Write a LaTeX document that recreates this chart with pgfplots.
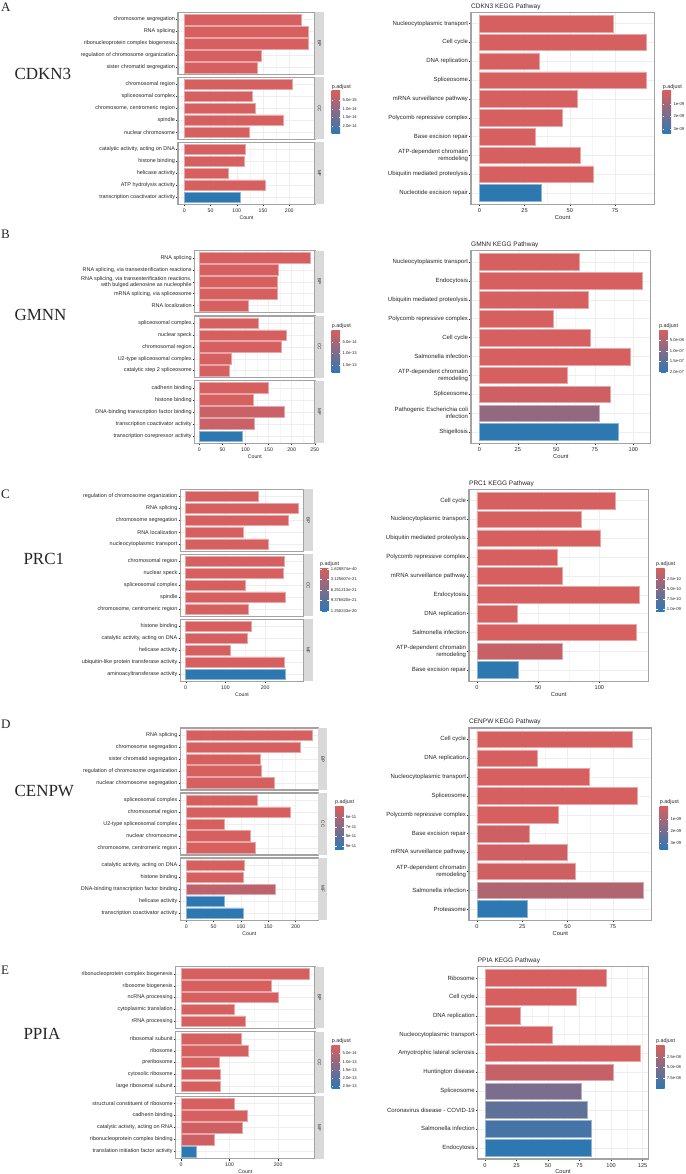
\documentclass[border=0pt]{standalone}
\usepackage{fontspec}
\setmainfont{Liberation Sans}
\newfontfamily\namefont{Liberation Serif}
\usepackage{pgfplots}
\pgfplotsset{compat=1.18}

\definecolor{pred}{HTML}{D65F5F}
\definecolor{pblue}{HTML}{2E78B2}
\definecolor{framegrey}{HTML}{A3A3A3}
\definecolor{stripgrey}{HTML}{D9D9D9}
\definecolor{gridgrey}{HTML}{EEEEEE}
\definecolor{txt}{HTML}{262626}

% 1 px of the reference = 1 pt here
\pgfplotsset{
  box/.style n args={4}{at={(#1pt,-#2pt)},anchor=north west,width=#3pt,height=#4pt},
  base/.style={
    scale only axis,y dir=reverse,
    axis line style={framegrey,line width=1.2pt},
    grid=major,grid style={gridgrey,line width=0.4pt},
    minor x tick num=1,xminorgrids=true,
    minor grid style={gridgrey!60,line width=0.3pt},
    minor tick length=0pt,
    tick align=outside,major tick length=1.8pt,
    tick style={txt,line width=0.3pt},
    xtick pos=bottom,ytick pos=left,
    bar shift=0pt,bar width=0.88,
    scaled x ticks=false,
    /pgf/number format/assume math mode=true,
    yticklabel style={align=right,text=txt,inner sep=1pt},
    xticklabel style={text=txt,inner sep=1pt,yshift=-1.5pt},
    xlabel style={text=txt,inner sep=0pt},
  },
  go/.style={base,ymin=0.4,ymax=5.6,ytick={1,...,5},
    yticklabel style={font=\fontsize{5.45}{6}\selectfont},
    xticklabel style={font=\fontsize{5.2}{6}\selectfont},
    xlabel style={font=\fontsize{5.2}{6}\selectfont,yshift=-1.8pt},
  },
  noxticks/.style={xticklabels={},xtick style={draw=none}},
  strip/.style={clip=false,after end axis/.code={
    \fill[stripgrey] (rel axis cs:1,0) rectangle ([xshift=9pt]rel axis cs:1,1);
    \node[rotate=-90,font=\fontsize{4.5}{5}\selectfont,text=txt] at ([xshift=4.5pt]rel axis cs:1,0.5) {#1};
  }},
  kegg/.style={base,ymin=0.4,ymax=10.6,ytick={1,...,10},
    yticklabel style={font=\fontsize{6}{6.8}\selectfont},
    xticklabel style={font=\fontsize{5.6}{6}\selectfont},
    xlabel style={font=\fontsize{5.8}{6}\selectfont,yshift=-1.2pt},
    title style={font=\fontsize{6.5}{7}\selectfont,text=txt,anchor=south west,at={(0,1)},inner sep=0pt,yshift=-3.5pt},
  },
}
\newcommand\bars[2]{\addplot[xbar,fill=#1,draw=#1!55!white,line width=0.5pt] coordinates {#2};}
\newcommand\gene[3]{\node[anchor=west,font=\namefont\fontsize{17}{18}\selectfont,text=txt] at (#1pt,-#2pt) {#3};}
\newcommand\letter[3]{\node[anchor=west,inner sep=0pt,font=\namefont\fontsize{13}{14}\selectfont,text=txt] at (#1pt,-#2pt) {#3};}
% colour key: x of bar, top, bottom, title, label list
\newcommand\pkey[5]{%
  \shade[top color=pred,middle color=pred!75!pblue,bottom color=pblue] (#1pt,-#2pt) rectangle ++(8.5pt,-#3pt);
  \node[anchor=south west,inner sep=0pt,font=\fontsize{5.4}{6}\selectfont,text=txt] at (#1pt,-#2pt+1.5pt) {#4};
  \foreach \yy/\tt in {#5}{
    \draw[white,line width=0.3pt] (#1pt,-\yy pt) -- ++(1.7pt,0);
    \draw[white,line width=0.3pt] (#1pt+6.8pt,-\yy pt) -- ++(1.7pt,0);
    \node[anchor=west,inner sep=0pt,font=\fontsize{4.2}{4.5}\selectfont,text=txt] at (#1pt+10.6pt,-\yy pt) {\tt};
  }}

\begin{document}
\begin{tikzpicture}
\useasboundingbox (0,0) rectangle (685pt,-1174pt);

\letter{1}{7}{A}
\letter{1}{234}{B}
\letter{1}{494}{C}
\letter{1}{724}{D}
\letter{1}{970}{E}
\gene{11}{74}{CDKN3}
\gene{11}{315}{GMNN}
\gene{20}{559}{PRC1}
\gene{11}{791}{CENPW}
\gene{20}{1034}{PPIA}

% ---- A left
\begin{axis}[go,noxticks,strip=BP,box={178}{12.3}{137}{62.5},xmin=-12,xmax=249,xtick={0,50,100,150,200},
  yticklabels={chromosome segregation,RNA splicing,ribonucleoprotein complex biogenesis,regulation of chromosome organization,sister chromatid segregation}]
\bars{pred}{(223,1)(237,2)(237,3)(146,4)(139,5)}
\end{axis}
\begin{axis}[go,noxticks,strip=CC,box={178}{77.3}{137}{62},xmin=-12,xmax=249,xtick={0,50,100,150,200},
  yticklabels={chromosomal region,spliceosomal complex,{chromosome, centromeric region},spindle,nuclear chromosome}]
\bars{pred}{(206,1)(129,2)(136,3)(188,4)(123,5)}
\end{axis}
\begin{axis}[go,strip=MF,box={178}{142.3}{137}{62},xmin=-12,xmax=249,xtick={0,50,100,150,200},xlabel={Count},
  yticklabels={{catalytic activity, acting on DNA},histone binding,helicase activity,ATP hydrolysis activity,transcription coactivator activity}]
\bars{pred}{(117,1)(114,2)(83,3)(154,4)}
\bars{pblue}{(106,5)}
\end{axis}
\pkey{331.7}{91}{43}{p.adjust}{99.7/5.0e-15,108.7/1.0e-14,117/1.5e-14,125.7/2.0e-14}

% ---- A right
\begin{axis}[kegg,box={471}{12.3}{183.3}{192},xmin=-4.6,xmax=96.7,xtick={0,25,50,75},xlabel={Count},title={CDKN3 KEGG Pathway},
  yticklabels={Nucleocytoplasmic transport,Cell cycle,DNA replication,Spliceosome,mRNA surveillance pathway,Polycomb repressive complex,Base excision repair,{ATP-dependent chromatin\\remodeling},Ubiquitin mediated proteolysis,Nucleotide excision repair}]
\bars{pred}{(74,1)(92,2)(33,3)(92,4)(54,5)(46,6)(31,7)(56,8)(63,9)}
\bars{pblue}{(34,10)}
\end{axis}
\pkey{662.7}{91}{43}{p.adjust}{103.7/1e-09,116.3/2e-09,129.3/3e-09}

% ---- B left
\begin{axis}[go,noxticks,strip=BP,box={194.7}{250.7}{120.3}{62},xmin=-10,xmax=250.6,xtick={0,50,100,150,200,250},
  yticklabels={RNA splicing,{RNA splicing, via transesterification reactions},{RNA splicing, via transesterification reactions,\\with bulged adenosine as nucleophile},{mRNA splicing, via spliceosome},RNA localization}]
\bars{pred}{(240,1)(171,2)(168,3)(168,4)(107,5)}
\end{axis}
\begin{axis}[go,noxticks,strip=CC,box={194.7}{316}{120.3}{61.7},xmin=-10,xmax=250.6,xtick={0,50,100,150,200,250},
  yticklabels={spliceosomal complex,nuclear speck,chromosomal region,U2-type spliceosomal complex,catalytic step 2 spliceosome}]
\bars{pred}{(128.5,1)(189,2)(178,3)(69,4)(64,5)}
\end{axis}
\begin{axis}[go,strip=MF,box={194.7}{380.7}{120.3}{62.6},xmin=-10,xmax=250.6,xtick={0,50,100,150,200,250},xlabel={Count},
  yticklabels={cadherin binding,histone binding,DNA-binding transcription factor binding,transcription coactivator activity,transcription corepressor activity}]
\bars{pred}{(150,1)(116,2)}
\bars{pred!92!pblue}{(183,3)(119,4)}
\bars{pblue}{(93,5)}
\end{axis}
\pkey{331.7}{330}{42.3}{p.adjust}{342/5.0e-14,353.3/1.0e-13,365/1.5e-13}

% ---- B right
\begin{axis}[kegg,box={471}{250.7}{179.7}{192.6},xmin=-5.4,xmax=111.3,xtick={0,25,50,75,100},xlabel={Count},title={GMNN KEGG Pathway},
  yticklabels={Nucleocytoplasmic transport,Endocytosis,Ubiquitin mediated proteolysis,Polycomb repressive complex,Cell cycle,Salmonella infection,{ATP-dependent chromatin\\remodeling},Spliceosome,{Pathogenic Escherichia coli\\infection},Shigellosis}]
\bars{pred}{(65,1)(105.6,2)(71,3)(48,4)(72,5)(98,6)(57,7)}
\bars{pred!95!pblue}{(85,8)}
\bars{pred!60!pblue}{(78,9)}
\bars{pblue}{(90,10)}
\end{axis}
\pkey{659}{330}{42.3}{p.adjust}{340.3/5.0e-08,350.7/1.0e-07,361.3/1.5e-07,371.7/2.0e-07}

% ---- C left
\begin{axis}[go,noxticks,strip=BP,box={180.3}{489.3}{123.4}{62},xmin=-13.5,xmax=297,xtick={0,100,200},
  yticklabels={regulation of chromosome organization,RNA splicing,chromosome segregation,RNA localization,nucleocytoplasmic transport}]
\bars{pred}{(182,1)(283,2)(257,3)(146,4)(207,5)}
\end{axis}
\begin{axis}[go,noxticks,strip=CC,box={180.3}{554.3}{123.4}{62},xmin=-13.5,xmax=297,xtick={0,100,200},
  yticklabels={chromosomal region,nuclear speck,spliceosomal complex,spindle,{chromosome, centromeric region}}]
\bars{pred}{(249,1)(245,2)(150,3)(250,4)(158,5)}
\end{axis}
\begin{axis}[go,strip=MF,box={180.3}{619.3}{123.4}{62},xmin=-13.5,xmax=297,xtick={0,100,200},xlabel={Count},
  yticklabels={histone binding,{catalytic activity, acting on DNA},helicase activity,ubiquitin-like protein transferase activity,aminoacyltransferase activity}]
\bars{pred}{(164,1)(156,2)(112,3)(248,4)}
\bars{pblue}{(250,5)}
\end{axis}
\pkey{320}{568.3}{42.7}{p.adjust}{568.9/1.628874e-40,579/3.125607e-21,590/6.251213e-21,600.3/9.376820e-21,610.8/1.250243e-20}

% ---- C right
\begin{axis}[kegg,box={469}{489.3}{179.3}{192},xmin=-6.5,xmax=140,xtick={0,50,100},xlabel={Count},title={PRC1 KEGG Pathway},
  yticklabels={Cell cycle,Nucleocytoplasmic transport,Ubiquitin mediated proteolysis,Polycomb repressive complex,mRNA surveillance pathway,Endocytosis,DNA replication,Salmonella infection,{ATP-dependent chromatin\\remodeling},Base excision repair}]
\bars{pred}{(113,1)(85,2)(101,3)(66,4)(70,5)(133,6)(33,7)(130,8)}
\bars{pred!90!pblue}{(70,9)}
\bars{pblue}{(34,10)}
\end{axis}
\pkey{656}{568.3}{42.7}{p.adjust}{579/2.5e-10,589/5.0e-10,599/7.5e-10,609/1.0e-09}

% ---- D left
\begin{axis}[go,noxticks,strip=BP,box={180.3}{728}{138}{62},xmin=-11,xmax=241.5,xtick={0,50,100,150,200},
  yticklabels={RNA splicing,chromosome segregation,sister chromatid segregation,regulation of chromosome organization,nuclear chromosome segregation}]
\bars{pred}{(231,1)(208.5,2)(135,3)(138,4)(160,5)}
\end{axis}
\begin{axis}[go,noxticks,strip=CC,box={180.3}{793}{138}{62},xmin=-11,xmax=241.5,xtick={0,50,100,150,200},
  yticklabels={spliceosomal complex,chromosomal region,U2-type spliceosomal complex,nuclear chromosome,{chromosome, centromeric region}}]
\bars{pred}{(130,1)(190,2)(70,3)(117,4)(127,5)}
\end{axis}
\begin{axis}[go,strip=MF,box={180.3}{858}{138}{62.3},xmin=-11,xmax=241.5,xtick={0,50,100,150,200},xlabel={Count},
  yticklabels={{catalytic activity, acting on DNA},histone binding,DNA-binding transcription factor binding,helicase activity,transcription coactivator activity}]
\bars{pred}{(106,1)(104,2)}
\bars{pred!85!pblue}{(162,3)}
\bars{pblue}{(70,4)(104,5)}
\end{axis}
\pkey{335}{806.7}{42.6}{p.adjust}{817/6e-11,826.7/7e-11,836.3/8e-11,846/9e-11}

% ---- D right
\begin{axis}[kegg,box={469}{728}{182.7}{192.3},xmin=-4.4,xmax=96.4,xtick={0,25,50,75},xlabel={Count},title={CENPW KEGG Pathway},
  yticklabels={Cell cycle,DNA replication,Nucleocytoplasmic transport,Spliceosome,Polycomb repressive complex,Base excision repair,mRNA surveillance pathway,{ATP-dependent chromatin\\remodeling},Salmonella infection,Proteasome}]
\bars{pred}{(85.7,1)(33,2)(62,3)(88.6,4)(45,5)}
\bars{pred!95!pblue}{(29,6)(50,7)(54,8)}
\bars{pred!78!pblue}{(92,9)}
\bars{pblue}{(28,10)}
\end{axis}
\pkey{659.7}{806.7}{42.6}{p.adjust}{818.7/1e-09,831/2e-09,842.7/3e-09}

% ---- E left
\begin{axis}[go,noxticks,strip=BP,box={175.7}{966.7}{139.3}{61.6},xmin=-11,xmax=276,xtick={0,100,200},
  yticklabels={ribonucleoprotein complex biogenesis,ribosome biogenesis,ncRNA processing,cytoplasmic translation,rRNA processing}]
\bars{pred}{(264,1)(185,2)(200,3)(109,4)(132,5)}
\end{axis}
\begin{axis}[go,noxticks,strip=CC,box={175.7}{1031.7}{139.3}{61.6},xmin=-11,xmax=276,xtick={0,100,200},
  yticklabels={ribosomal subunit,ribosome,preribosome,cytosolic ribosome,large ribosomal subunit}]
\bars{pred}{(124,1)(138,2)(79,3)(81,4)(80,5)}
\end{axis}
\begin{axis}[go,strip=MF,box={175.7}{1096.3}{139.3}{62.4},xmin=-11,xmax=276,xtick={0,100,200},xlabel={Count},
  yticklabels={structural constituent of ribosome,cadherin binding,{catalytic activity, acting on RNA},ribonucleoprotein complex binding,translation initiation factor activity}]
\bars{pred}{(109,1)(137,2)}
\bars{pred!95!pblue}{(126,3)(69,4)}
\bars{pblue}{(32,5)}
\end{axis}
\pkey{331.7}{1045.7}{42.3}{p.adjust}{1053.3/5.0e-14,1061.7/1.0e-13,1069.7/1.5e-13,1078/2.0e-13,1086/2.5e-13}

% ---- E right
\begin{axis}[kegg,box={477.7}{966.7}{170.6}{192.3},xmin=-5.8,xmax=129.5,xtick={0,25,50,75,100,125},xlabel={Count},title={PPIA KEGG Pathway},
  yticklabels={Ribosome,Cell cycle,DNA replication,Nucleocytoplasmic transport,Amyotrophic lateral sclerosis,Huntington disease,Spliceosome,Coronavirus disease - COVID-19,Salmonella infection,Endocytosis}]
\bars{pred}{(96,1)(72,2)(28,3)(53,4)(123,5)}
\bars{pred!90!pblue}{(102,6)}
\bars{pred!45!pblue}{(76,7)}
\bars{pred!30!pblue}{(81,8)}
\bars{pred!15!pblue}{(84,9)}
\bars{pblue}{(84,10)}
\end{axis}
\pkey{656}{1045.7}{42.3}{p.adjust}{1056.7/2.5e-08,1067/5.0e-08,1077.7/7.5e-08}
\end{tikzpicture}
\end{document}
